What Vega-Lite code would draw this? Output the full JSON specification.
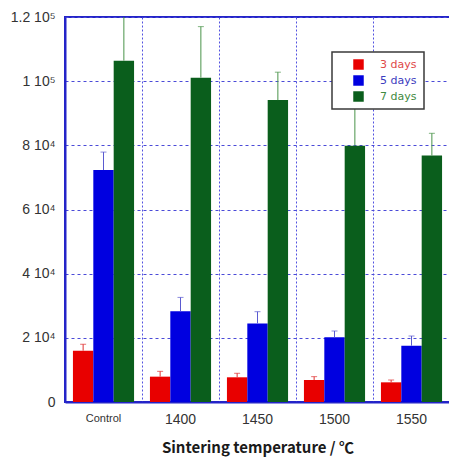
{
  "$schema": "https://vega.github.io/schema/vega-lite/v6.json",
  "autosize": {"type": "none"},
  "padding": {"left": 65, "top": 17, "right": 0, "bottom": 55},
  "width": 385,
  "height": 385,
  "background": "white",
  "config": {
    "view": {"stroke": "#2424c8", "strokeWidth": 2},
    "legend": {"strokeWidth": 1.5}
  },
  "data": {
    "values": [
      {"temp": "Control", "series": "3 days", "value": 16000, "upper": 18000},
      {"temp": "Control", "series": "5 days", "value": 72300, "upper": 77900},
      {"temp": "Control", "series": "7 days", "value": 106400, "upper": 124000},
      {"temp": "1400", "series": "3 days", "value": 7900, "upper": 9560},
      {"temp": "1400", "series": "5 days", "value": 28270, "upper": 32600},
      {"temp": "1400", "series": "7 days", "value": 101100, "upper": 117000},
      {"temp": "1450", "series": "3 days", "value": 7700, "upper": 8950},
      {"temp": "1450", "series": "5 days", "value": 24500, "upper": 28150},
      {"temp": "1450", "series": "7 days", "value": 94100, "upper": 102800},
      {"temp": "1500", "series": "3 days", "value": 6860, "upper": 7900},
      {"temp": "1500", "series": "5 days", "value": 20160, "upper": 22130},
      {"temp": "1500", "series": "7 days", "value": 79900, "upper": 93000},
      {"temp": "1550", "series": "3 days", "value": 6130, "upper": 6860},
      {"temp": "1550", "series": "5 days", "value": 17550, "upper": 20570},
      {"temp": "1550", "series": "7 days", "value": 76800, "upper": 83750}
    ]
  },
  "encoding": {
    "x": {
      "field": "temp",
      "type": "nominal",
      "sort": null,
      "scale": {"paddingInner": 0, "paddingOuter": 0, "round": true},
      "axis": {
        "title": "Sintering temperature / ℃",
        "titleFont": "Noto Sans CJK JP",
        "titleFontSize": 15,
        "titleFontWeight": "bold",
        "titleColor": "#1a1a1a",
        "titlePadding": 14,
        "labelAngle": 0,
        "labelFont": "Liberation Sans",
        "labelFontSize": {"condition": {"test": "datum.value == 'Control'", "value": 11}, "value": 14},
        "labelColor": "#333333",
        "labelPadding": 10,
        "ticks": false,
        "domain": true,
        "domainColor": "#2424c8",
        "domainWidth": 2,
        "grid": true,
        "bandPosition": 0,
        "gridColor": "#5252e0",
        "gridDash": [2, 2],
        "gridWidth": 1
      }
    },
    "xOffset": {"field": "series", "type": "nominal", "scale": {"paddingInner": 0, "paddingOuter": 0.39}},
    "y": {
      "field": "value",
      "type": "quantitative",
      "scale": {"domain": [0, 120000], "nice": false, "zero": true},
      "axis": {
        "title": null,
        "values": [0, 20000, 40000, 60000, 80000, 100000, 120000],
        "labelExpr": "datum.value == 0 ? '0' : datum.value == 100000 ? '1 10⁵' : datum.value == 120000 ? '1.2 10⁵' : (datum.value / 10000) + ' 10⁴'",
        "labelFont": "Liberation Sans",
        "labelFontSize": 14,
        "labelColor": "#333333",
        "labelPadding": 10,
        "ticks": false,
        "domain": true,
        "domainColor": "#2424c8",
        "domainWidth": 2,
        "grid": true,
        "gridColor": "#4a4ad8",
        "gridDash": [3, 3],
        "gridWidth": 1
      }
    }
  },
  "layer": [
    {
      "mark": {"type": "bar", "clip": true},
      "encoding": {
        "color": {
          "field": "series",
          "type": "nominal",
          "scale": {"domain": ["3 days", "5 days", "7 days"], "range": ["#e80000", "#0000e0", "#0a5e1c"]},
          "legend": {
            "title": null,
            "orient": "none",
            "legendX": 267,
            "legendY": 35,
            "fillColor": "white",
            "strokeColor": "#3a3a3a",
            "padding": 7,
            "symbolType": "square",
            "symbolSize": 110,
            "symbolStrokeWidth": 0,
            "symbolOffset": 14,
            "labelOffset": 16,
            "labelFont": "DejaVu Sans",
            "labelFontSize": 11,
            "rowPadding": 4,
            "encode": {
              "labels": {
                "update": {
                  "fill": {"signal": "datum.value === '3 days' ? '#e04848' : datum.value === '5 days' ? '#3c3cc0' : '#3f8a3f'"}
                }
              }
            }
          }
        }
      }
    },
    {
      "mark": {"type": "rule", "clip": true, "strokeWidth": 1},
      "encoding": {
        "y2": {"field": "upper"},
        "stroke": {
          "field": "series",
          "type": "nominal",
          "scale": {"domain": ["3 days", "5 days", "7 days"], "range": ["#e03030", "#5a5ad0", "#4a944a"]},
          "legend": null
        }
      }
    },
    {
      "mark": {"type": "tick", "clip": true, "size": 6, "thickness": 1},
      "encoding": {
        "y": {"field": "upper", "type": "quantitative"},
        "color": {
          "field": "series",
          "type": "nominal",
          "scale": {"domain": ["3 days", "5 days", "7 days"], "range": ["#e03030", "#5a5ad0", "#4a944a"]},
          "legend": null
        }
      }
    }
  ],
  "resolve": {"scale": {"color": "independent", "stroke": "independent"}}
}
